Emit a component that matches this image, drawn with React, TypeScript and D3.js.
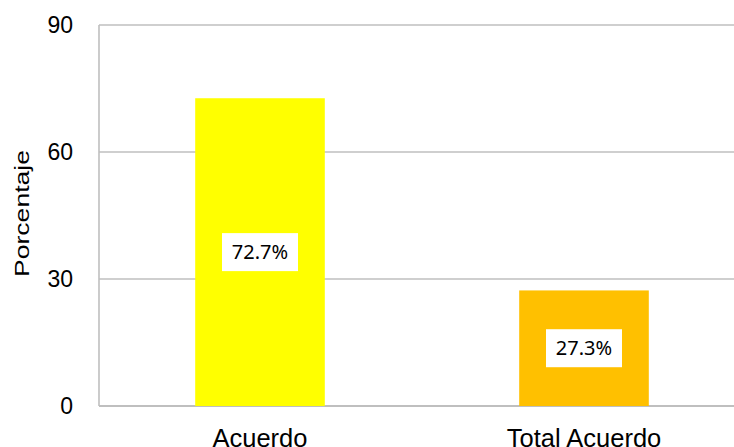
import { select, scaleBand, scaleLinear } from "d3";
import { useRef, useEffect } from "react";

const categories = ["Acuerdo", "Total Acuerdo"];
const values = [72.7, 27.3];
const barColors = ["#FFFF00", "#FFC000"];
const yTicks = [0, 30, 60, 90];
const yLabel = "Porcentaje";

const W = 734;
const H = 447;

const App = () => {
  const svgRef = useRef<SVGSVGElement>(null);

  useEffect(() => {
    const svg = select(svgRef.current);
    svg.selectAll("*").remove();

    // plot runs a bit past the right edge of the picture
    const xScale = scaleBand<string>()
      .domain(categories)
      .range([98, 746])
      .paddingInner(0.6)
      .paddingOuter(0.3);

    const yScale = scaleLinear().domain([0, 90]).range([406, 25]);

    // gridlines
    svg
      .selectAll(".grid")
      .data(yTicks)
      .join("line")
      .attr("class", "grid")
      .attr("x1", 99)
      .attr("x2", W)
      .attr("y1", (d) => yScale(d))
      .attr("y2", (d) => yScale(d))
      .attr("stroke", "#bfbfbf")
      .attr("stroke-width", (d) => (d === 0 ? 2 : 1.4));

    // left axis line
    svg
      .append("line")
      .attr("x1", 99)
      .attr("x2", 99)
      .attr("y1", yScale(90))
      .attr("y2", yScale(0))
      .attr("stroke", "#bfbfbf")
      .attr("stroke-width", 1.6);

    // tick labels
    svg
      .selectAll(".ytick")
      .data(yTicks)
      .join("text")
      .attr("class", "ytick")
      .attr("x", 73)
      .attr("y", (d) => yScale(d))
      .attr("dy", "0.36em")
      .attr("text-anchor", "end")
      .attr("font-family", "'Liberation Sans', Arial, sans-serif")
      .attr("font-size", 23)
      .attr("fill", "#000")
      .text((d) => d);

    // axis title
    svg
      .append("text")
      .attr("transform", `translate(29, 213.5) rotate(-90)`)
      .attr("text-anchor", "middle")
      .attr("font-family", "'Liberation Sans', Arial, sans-serif")
      .attr("font-size", 21)
      .attr("textLength", 127)
      .attr("lengthAdjust", "spacingAndGlyphs")
      .attr("fill", "#000")
      .text(yLabel);

    // bars
    svg
      .selectAll(".bar")
      .data(values)
      .join("rect")
      .attr("class", "bar")
      .attr("x", (d, i) => xScale(categories[i]) as number)
      .attr("width", xScale.bandwidth())
      .attr("y", (d) => yScale(d))
      .attr("height", (d) => yScale(0) - yScale(d))
      .attr("fill", (d, i) => barColors[i]);

    // value label boxes
    const labels = svg
      .selectAll(".lbl")
      .data(values)
      .join("g")
      .attr("class", "lbl")
      .attr(
        "transform",
        (d, i) =>
          `translate(${(xScale(categories[i]) as number) + xScale.bandwidth() / 2}, ${
            (yScale(d) + yScale(0)) / 2
          })`
      );

    labels
      .append("rect")
      .attr("x", -38)
      .attr("y", -19)
      .attr("width", 76)
      .attr("height", 38)
      .attr("fill", "#fff");

    labels
      .append("text")
      .attr("text-anchor", "middle")
      .attr("dy", "0.36em")
      .attr("font-family", "'Noto Sans', sans-serif")
      .attr("font-size", 20)
      .attr("fill", "#000")
      .text((d) => `${d.toFixed(1)}%`);

    // category labels
    svg
      .selectAll(".xlab")
      .data(categories)
      .join("text")
      .attr("class", "xlab")
      .attr("x", (d) => (xScale(d) as number) + xScale.bandwidth() / 2)
      .attr("y", 447)
      .attr("text-anchor", "middle")
      .attr("font-family", "'Liberation Sans', Arial, sans-serif")
      .attr("font-size", 25.5)
      .attr("fill", "#000")
      .text((d) => d);
  }, []);

  return (
    <svg
      ref={svgRef}
      width={W}
      height={H}
      style={{ position: "absolute", left: 0, top: 0, background: "#fff" }}
    />
  );
};

export default App;
